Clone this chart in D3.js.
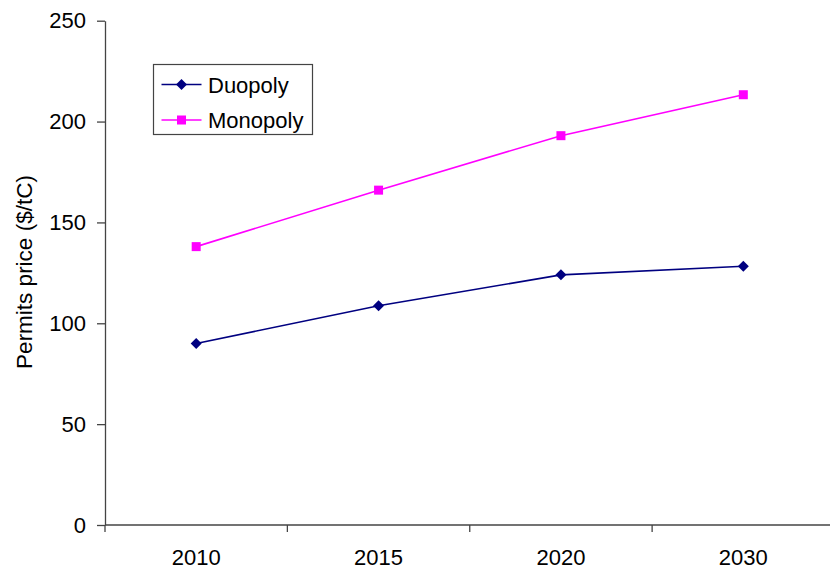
<!DOCTYPE html>
<html>
<head>
<meta charset="utf-8">
<script src="https://cdn.jsdelivr.net/npm/d3@7"></script>
<style>
  html, body { margin: 0; padding: 0; background: #fff; }
  svg { display: block; font-family: "Liberation Sans", Arial, sans-serif; }
</style>
</head>
<body>
<svg id="chart" width="830" height="567"></svg>
<script>
const categories = ["2010", "2015", "2020", "2030"];
const duopoly = [90, 108.7, 124, 128.3];
const monopoly = [138, 166, 193, 213.3];
const yTicks = [0, 50, 100, 150, 200, 250];
const seriesNames = ["Duopoly", "Monopoly"];

const svg = d3.select("#chart");
const plotLeft = 105, plotRight = 834.5, plotTop = 20.7, plotBottom = 525;

const x = d3.scaleBand().domain(categories).range([plotLeft, plotRight]);
const y = d3.scaleLinear().domain([0, 250]).range([plotBottom, plotTop]);

// Y axis
const yAxis = svg.append("g")
  .attr("transform", `translate(${plotLeft},0)`)
  .call(d3.axisLeft(y).tickValues(yTicks).tickSize(8).tickPadding(11).tickSizeOuter(0));
yAxis.select(".domain").attr("stroke", "#444").attr("stroke-width", 1.3);
yAxis.selectAll(".tick line").attr("stroke", "#444").attr("stroke-width", 1.3);
yAxis.selectAll(".tick text").attr("font-size", 22).attr("fill", "#000")
  .attr("font-family", "Liberation Sans, Arial, sans-serif");

// X axis
const xAxis = svg.append("g")
  .attr("transform", `translate(0,${plotBottom})`);
xAxis.append("line").attr("x1", plotLeft).attr("x2", 830).attr("y1", 0).attr("y2", 0)
  .attr("stroke", "#444").attr("stroke-width", 1.3);
const bounds = categories.map(c => x(c)).concat([x(categories[categories.length - 1]) + x.bandwidth()]);
xAxis.selectAll("line.tk").data(bounds.filter(b => b <= 830)).enter().append("line")
  .attr("class", "tk")
  .attr("x1", d => d).attr("x2", d => d).attr("y1", 0).attr("y2", 7)
  .attr("stroke", "#444").attr("stroke-width", 1.3);
xAxis.selectAll("text.lbl").data(categories).enter().append("text")
  .attr("class", "lbl")
  .attr("x", d => x(d) + x.bandwidth() / 2)
  .attr("y", 40)
  .attr("text-anchor", "middle")
  .attr("font-size", 22)
  .attr("fill", "#000")
  .text(d => d);

// Y title
svg.append("text")
  .attr("transform", `translate(32,272) rotate(-90)`)
  .attr("text-anchor", "middle")
  .attr("font-size", 22.5)
  .attr("fill", "#000")
  .text("Permits price ($/tC)");

const cx = c => x(c) + x.bandwidth() / 2;
const line = d3.line().x((d, i) => cx(categories[i])).y(d => y(d));

// Monopoly
svg.append("path").datum(monopoly).attr("d", line)
  .attr("fill", "none").attr("stroke", "#FF00FF").attr("stroke-width", 1.6);
svg.selectAll("rect.mono").data(monopoly).enter().append("rect")
  .attr("class", "mono")
  .attr("x", (d, i) => cx(categories[i]) - 4.5)
  .attr("y", d => y(d) - 4.5)
  .attr("width", 9).attr("height", 9)
  .attr("fill", "#FF00FF");

// Duopoly
svg.append("path").datum(duopoly).attr("d", line)
  .attr("fill", "none").attr("stroke", "#000080").attr("stroke-width", 1.6);
svg.selectAll("path.duo").data(duopoly).enter().append("path")
  .attr("class", "duo")
  .attr("d", "M0,-5.5L5.5,0L0,5.5L-5.5,0Z")
  .attr("transform", (d, i) => `translate(${cx(categories[i])},${y(d)})`)
  .attr("fill", "#000080");

// Legend
const lg = svg.append("g");
lg.append("rect").attr("x", 153.5).attr("y", 64.5).attr("width", 159).attr("height", 70)
  .attr("fill", "#fff").attr("stroke", "#444").attr("stroke-width", 1.2);
const rows = [84.5, 120];
const colors = ["#000080", "#FF00FF"];
seriesNames.forEach((name, i) => {
  lg.append("line").attr("x1", 161.5).attr("x2", 201.5).attr("y1", rows[i]).attr("y2", rows[i])
    .attr("stroke", colors[i]).attr("stroke-width", 1.6);
  if (i === 0) {
    lg.append("path").attr("d", "M0,-5.5L5.5,0L0,5.5L-5.5,0Z")
      .attr("transform", `translate(181.5,${rows[i]})`).attr("fill", colors[i]);
  } else {
    lg.append("rect").attr("x", 177).attr("y", rows[i] - 4.5).attr("width", 9).attr("height", 9)
      .attr("fill", colors[i]);
  }
  lg.append("text").attr("x", 208).attr("y", rows[i] + 8).attr("font-size", 22)
    .attr("fill", "#000").text(name);
});
</script>
</body>
</html>
